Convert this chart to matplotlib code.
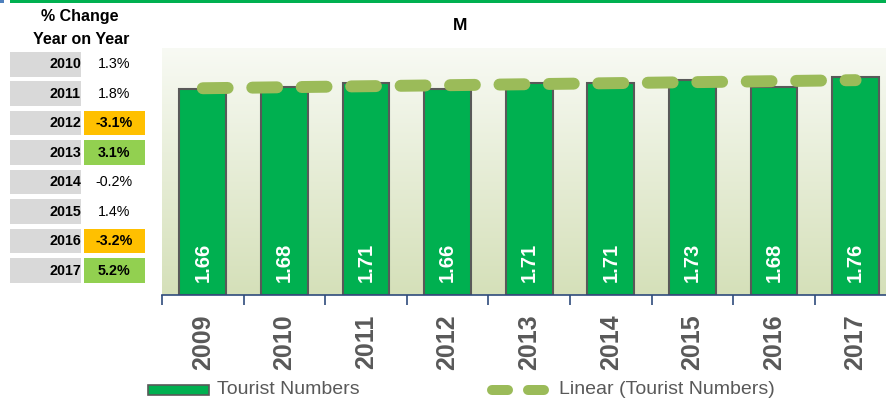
import numpy as np
import matplotlib
matplotlib.use("Agg")
import matplotlib.pyplot as plt
from matplotlib.patches import Rectangle
from matplotlib.lines import Line2D

plt.rcParams['font.family'] = ['Liberation Sans', 'DejaVu Sans']

# tourist numbers (millions)
years = ['2009', '2010', '2011', '2012', '2013', '2014', '2015', '2016', '2017']
tourists = [1.66, 1.68, 1.71, 1.66, 1.71, 1.71, 1.73, 1.68, 1.76]

# year on year change table
chg_years = ['2010', '2011', '2012', '2013', '2014', '2015', '2016', '2017']
chg_pct = [1.3, 1.8, -3.1, 3.1, -0.2, 1.4, -3.2, 5.2]

W, H = 887, 400
fig = plt.figure(figsize=(W / 100, H / 100), dpi=100)

# pixel-space layer for the table, header line and legend
bg = fig.add_axes([0, 0, 1, 1])
bg.set_xlim(0, W)
bg.set_ylim(H, 0)
bg.axis('off')

bg.add_patch(Rectangle((10, 0), W - 10, 2.5, color='#00B050', lw=0))
bg.add_patch(Rectangle((0, 0), 4, 2.5, color='#4F81BD', lw=0))

bg.text(80, 17, '% Change', ha='center', va='center', fontsize=11.5, fontweight='bold')
bg.text(81, 39, 'Year on Year', ha='center', va='center', fontsize=11.5, fontweight='bold')

pitch = 29.43
for i, (yr, p) in enumerate(zip(chg_years, chg_pct)):
    top = 52 + i * pitch
    bg.add_patch(Rectangle((10, top), 71, 24.5, color='#D9D9D9', lw=0))
    bg.text(81, top + 12.5, yr, ha='right', va='center', fontsize=10.3, fontweight='bold', color='black')
    weight = 'normal'
    if p <= -3:
        bg.add_patch(Rectangle((84, top), 61, 24.5, color='#FFC000', lw=0))
        weight = 'bold'
    elif p >= 3:
        bg.add_patch(Rectangle((84, top), 61, 24.5, color='#92D050', lw=0))
        weight = 'bold'
    bg.text(114, top + 12.5, '%.1f%%' % p, ha='center', va='center', fontsize=10.3,
            fontweight=weight, color='black')

bg.text(460, 25, 'M', ha='center', va='center', fontsize=12.5, fontweight='bold')

# legend
bg.add_patch(Rectangle((148, 385), 61, 9.5, facecolor='#00B050', edgecolor='#595959', lw=1.2))
bg.text(217, 390, 'Tourist Numbers', ha='left', va='center', fontsize=14, color='#595959')
bg.add_line(Line2D([492, 544], [390, 390], color='#9BBB59', lw=7.2, dashes=(1.6, 2.0),
                   dash_capstyle='round'))
bg.text(559, 390, 'Linear (Tourist Numbers)', ha='left', va='center', fontsize=14, color='#595959')

# main chart
x0, x1, y0, y1 = 162, 887, 48, 295
ax = fig.add_axes([x0 / W, 1 - y1 / H, (x1 - x0) / W, (y1 - y0) / H])
xs = np.arange(len(years))

grad = np.linspace(0, 1, 256)[:, None]
top_c = np.array([248, 250, 244]) / 255
bot_c = np.array([213, 224, 185]) / 255
img = top_c[None, None, :] * (1 - grad[:, :, None]) + bot_c[None, None, :] * grad[:, :, None]
ax.imshow(img, extent=[-0.5, 9, 0, 2], aspect='auto', zorder=0, origin='upper')

ax.bar(xs, tourists, width=0.575, color='#00B050', edgecolor='#595959', linewidth=1.5, zorder=2)
for xi, v in zip(xs, tourists):
    ax.text(xi, 0.266, '%.2f' % v, rotation=90, ha='center', va='center', color='white',
            fontsize=14.5, fontweight='bold', zorder=3)

# linear trend line
k, b = np.polyfit(xs, tourists, 1)
ax.plot(xs, k * xs + b, color='#9BBB59', lw=8.6, dashes=(2.08, 2.06),
        dash_capstyle='round', zorder=4)

for s in ['top', 'left', 'right']:
    ax.spines[s].set_visible(False)
ax.spines['bottom'].set_color('#2F4B7C')
ax.spines['bottom'].set_linewidth(1.2)
ax.set_yticks([])
ax.set_xticks(np.arange(-0.5, 9, 1))
ax.set_xticklabels([])
ax.tick_params(axis='x', which='major', length=7.5, width=1.2, color='#2F4B7C', direction='out')
ax.set_xticks(xs, minor=True)
ax.set_xticklabels(years, minor=True, rotation=90, fontsize=18, fontweight='bold', color='#595959')
ax.tick_params(axis='x', which='minor', length=0, pad=14)

# limits last, so the tick setup doesn't widen them; last category runs off the edge
ax.set_xlim(-0.5, -0.5 + (x1 - x0) / 81.6)
ax.set_ylim(0, (y1 - y0) / 124)

fig.savefig('out.png', dpi=100)
